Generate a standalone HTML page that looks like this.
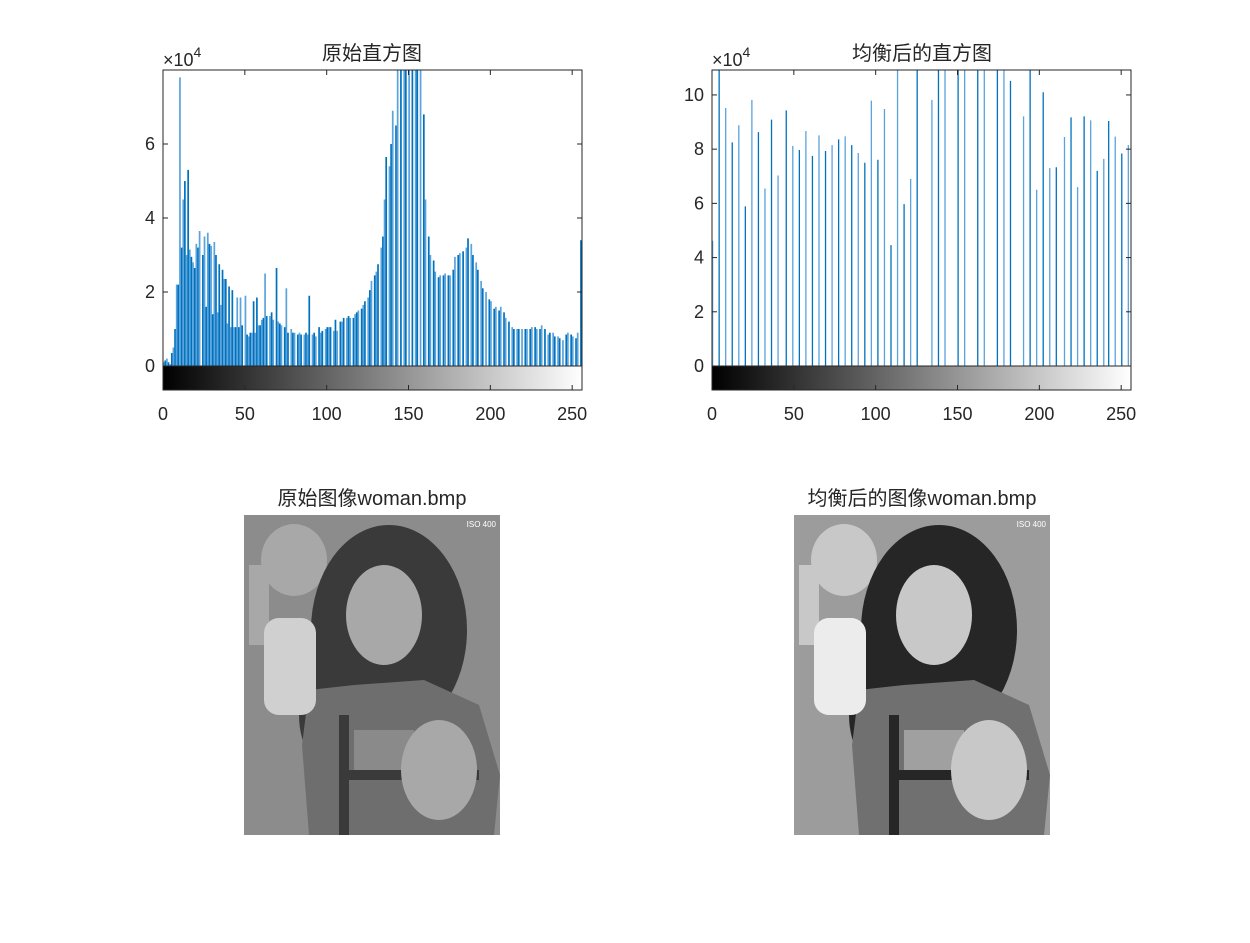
<!DOCTYPE html>
<html><head><meta charset="utf-8"><style>
body{margin:0;background:#fff;}
svg text{font-family:"Liberation Sans","Noto Sans CJK SC",sans-serif;fill:#262626;}
</style></head><body>
<svg id="fig" width="1250" height="938" viewBox="0 0 1250 938" xmlns="http://www.w3.org/2000/svg">
<defs>
<linearGradient id="gray" x1="0" x2="1" y1="0" y2="0"><stop offset="0" stop-color="#000"/><stop offset="1" stop-color="#fff"/></linearGradient>
<clipPath id="clipL"><rect x="163" y="70" width="419" height="296"/></clipPath>
<clipPath id="clipR"><rect x="712" y="70" width="419" height="296"/></clipPath>
<g id="photo">
  <rect x="0" y="0" width="256" height="320" fill="var(--bg)"/>
  <ellipse cx="50" cy="45" rx="33" ry="36" fill="var(--skin)"/>
  <rect x="5" y="50" width="20" height="80" fill="var(--skin)"/>
  <ellipse cx="145" cy="115" rx="78" ry="105" fill="var(--hair)"/>
  <ellipse cx="95" cy="200" rx="40" ry="60" fill="var(--hair)"/>
  <ellipse cx="140" cy="100" rx="38" ry="50" fill="var(--skin)"/>
  <polygon points="65,175 110,170 180,165 235,190 256,260 250,320 65,320 58,230" fill="var(--shirt)"/>
  <rect x="20" y="103" width="52" height="97" rx="15" fill="var(--light)"/>
  <rect x="95" y="200" width="10" height="120" fill="var(--hair)"/>
  <rect x="95" y="255" width="140" height="10" fill="var(--hair)"/>
  <rect x="110" y="215" width="60" height="40" fill="var(--mid)"/>
  <ellipse cx="195" cy="255" rx="38" ry="50" fill="var(--skin)"/>
</g>
</defs>

<g>
  <text x="372" y="60" font-size="20" text-anchor="middle">原始直方图</text>
  <text x="163" y="66" font-size="18">×10<tspan dy="-9" font-size="14">4</tspan></text>
  <g id="barsL" clip-path="url(#clipL)"></g>
  <rect x="163" y="366" width="419" height="24" fill="url(#gray)" stroke="#262626"/>
  <rect x="163" y="70" width="419" height="320" fill="none" stroke="#262626"/>
  <g id="axL"></g>
</g>

<g>
  <text x="922" y="60" font-size="20" text-anchor="middle">均衡后的直方图</text>
  <text x="712" y="66" font-size="18">×10<tspan dy="-9" font-size="14">4</tspan></text>
  <g id="barsR" clip-path="url(#clipR)"></g>
  <rect x="712" y="366" width="419" height="24" fill="url(#gray)" stroke="#262626"/>
  <rect x="712" y="70" width="419" height="320" fill="none" stroke="#262626"/>
  <g id="axR"></g>
</g>

<text x="372" y="505" font-size="20" text-anchor="middle">原始图像woman.bmp</text>
<g transform="translate(244,515)" style="--bg:#8c8c8c;--skin:#a8a8a8;--hair:#3a3a3a;--shirt:#6e6e6e;--light:#d0d0d0;--mid:#8a8a8a"><use href="#photo"/><text x="252" y="12" font-size="8" style="fill:#fff" text-anchor="end">ISO 400</text></g>
<text x="922" y="505" font-size="20" text-anchor="middle">均衡后的图像woman.bmp</text>
<g transform="translate(794,515)" style="--bg:#9c9c9c;--skin:#c8c8c8;--hair:#262626;--shirt:#707070;--light:#ececec;--mid:#a0a0a0"><use href="#photo"/><text x="252" y="12" font-size="8" style="fill:#fff" text-anchor="end">ISO 400</text></g>
</svg>
<script>
const origBins=[0,1,2,3,4,5,6,7,8,9,10,11,12,13,14,15,16,17,18,19,20,21,22,24,25,26,27,28,29,30,31,32,33,34,35,36,37,38,39,40,41,42,43,44,45,46,47,48,50,51,52,53,54,55,56,57,58,59,60,61,62,63,65,66,67,69,70,71,72,74,75,76,78,79,80,82,83,84,86,87,88,89,91,92,93,95,96,97,99,100,101,102,104,105,106,108,109,110,112,113,114,116,117,118,119,121,122,123,125,126,127,129,130,131,133,134,135,136,138,139,140,142,143,145,147,148,150,152,154,155,157,159,160,162,163,165,166,168,169,171,172,174,175,177,178,180,181,183,185,186,188,189,191,192,194,195,197,199,200,202,203,205,206,208,209,211,213,214,216,217,219,221,222,224,225,227,228,230,231,233,235,236,238,239,241,242,244,246,247,249,250,252,253,255];
const origCounts=[0.1,0.15,0.2,0.1,0.05,0.35,0.5,1.0,2.2,2.2,7.8,3.2,4.5,5.0,3.0,5.3,3.15,2.95,2.8,2.65,3.3,3.2,3.65,3.0,3.5,1.6,3.6,3.3,3.25,1.4,3.35,3.0,1.45,2.75,1.65,2.6,2.35,2.35,1.15,2.15,1.05,2.05,1.05,1.05,1.85,1.05,1.85,1.1,1.9,0.85,0.8,0.9,0.9,1.75,0.9,1.85,1.1,1.1,1.25,1.3,2.5,1.35,1.35,1.45,1.25,2.65,1.2,1.15,1.1,1.05,2.1,0.9,1.0,0.9,0.9,0.85,0.9,0.85,0.85,0.9,0.85,1.9,0.85,0.9,0.8,1.05,0.9,0.95,1.0,1.05,1.05,1.05,0.95,1.25,0.95,1.2,1.2,1.3,1.3,1.35,1.3,1.3,1.4,1.45,1.5,1.55,1.65,1.75,1.85,2.05,2.3,2.45,2.55,2.75,3.2,3.5,4.5,5.65,5.4,6.0,6.9,6.5,9,9,9,9,9,9,9,9,9,6.8,4.5,3.5,3.0,2.85,2.55,2.4,2.45,2.45,2.5,2.45,2.45,2.6,2.95,3.0,3.05,3.1,3.2,3.45,3.3,3.0,2.8,2.6,2.3,2.1,2.0,1.8,1.75,1.55,1.6,1.5,1.6,1.45,1.3,1.2,1.05,1.0,1.0,1.0,1.0,1.0,1.0,1.0,1.05,1.05,1.0,1.0,1.1,1.0,0.85,0.9,0.9,0.8,0.8,0.75,0.7,0.85,0.9,0.85,0.8,0.75,0.9,3.4];
const eqBins=[0,4,8,12,16,20,24,28,32,36,40,45,49,53,57,61,65,69,73,77,81,85,89,93,97,101,105,109,113,117,121,125,134,138,142,150,154,162,166,174,178,182,190,194,198,202,206,210,215,219,223,227,231,235,239,242,246,250,254];
const eqCounts=[4.62,12,9.52,8.25,8.88,5.89,9.82,8.63,6.55,9.09,7.03,9.43,8.12,7.97,8.67,7.75,8.51,7.93,8.15,8.36,8.47,8.15,7.86,7.5,9.79,7.61,9.48,4.46,12,5.97,6.9,12,9.82,12,12,12,12,12,12,12,12,10.52,9.21,12,6.5,10.1,7.3,7.33,8.45,9.17,6.6,9.21,9.06,7.2,7.64,9.04,8.46,7.84,8.15];
const xTicks=[0,50,100,150,200,250];
const yTicksL=[0,2,4,6];
const yTicksR=[0,2,4,6,8,10];
const NS='http://www.w3.org/2000/svg';
function mk(tag,attrs,parent){const e=document.createElementNS(NS,tag);for(const k in attrs)e.setAttribute(k,attrs[k]);parent.appendChild(e);return e;}
function axes(x0,x1,y0,yTop,yMax,gid,barsId,bins,counts,yTicks,prefix,w){
  const sx=v=>x0+v*(x1-x0)/256;
  const sy=v=>y0-v*(y0-yTop)/yMax;
  const bars=document.getElementById(barsId);
  bins.forEach((b,i)=>{
    const l=mk('line',{x1:sx(b)+0.6,x2:sx(b)+0.6,y1:y0,y2:sy(counts[i]),stroke:i%2?'#0072BD':'#5aa3dc','stroke-width':w},bars);
    
    
  });
  const ax=document.getElementById(gid);
  xTicks.forEach(t=>{
    const x=sx(t);
    mk('line',{x1:x,x2:x,y1:390,y2:385,stroke:'#262626'},ax);
    mk('line',{x1:x,x2:x,y1:70,y2:75,stroke:'#262626'},ax);
    const tx=mk('text',{x:x,y:420,'font-size':18,'text-anchor':'middle'},ax);
    tx.textContent=t;
    
    
  });
  yTicks.forEach(t=>{
    const y=sy(t);
    mk('line',{x1:x0,x2:x0+5,y1:y,y2:y,stroke:'#262626'},ax);
    mk('line',{x1:x1,x2:x1-5,y1:y,y2:y,stroke:'#262626'},ax);
    const tx=mk('text',{x:x0-8,y:y+6,'font-size':18,'text-anchor':'end'},ax);
    tx.textContent=t;
    
    
  });
}
axes(163,582,366,70,8.0,'axL','barsL',origBins,origCounts,yTicksL,'original',1.7);
axes(712,1131,366,70,10.92,'axR','barsR',eqBins,eqCounts,yTicksR,'equalized',1.3);
</script>
</body></html>
